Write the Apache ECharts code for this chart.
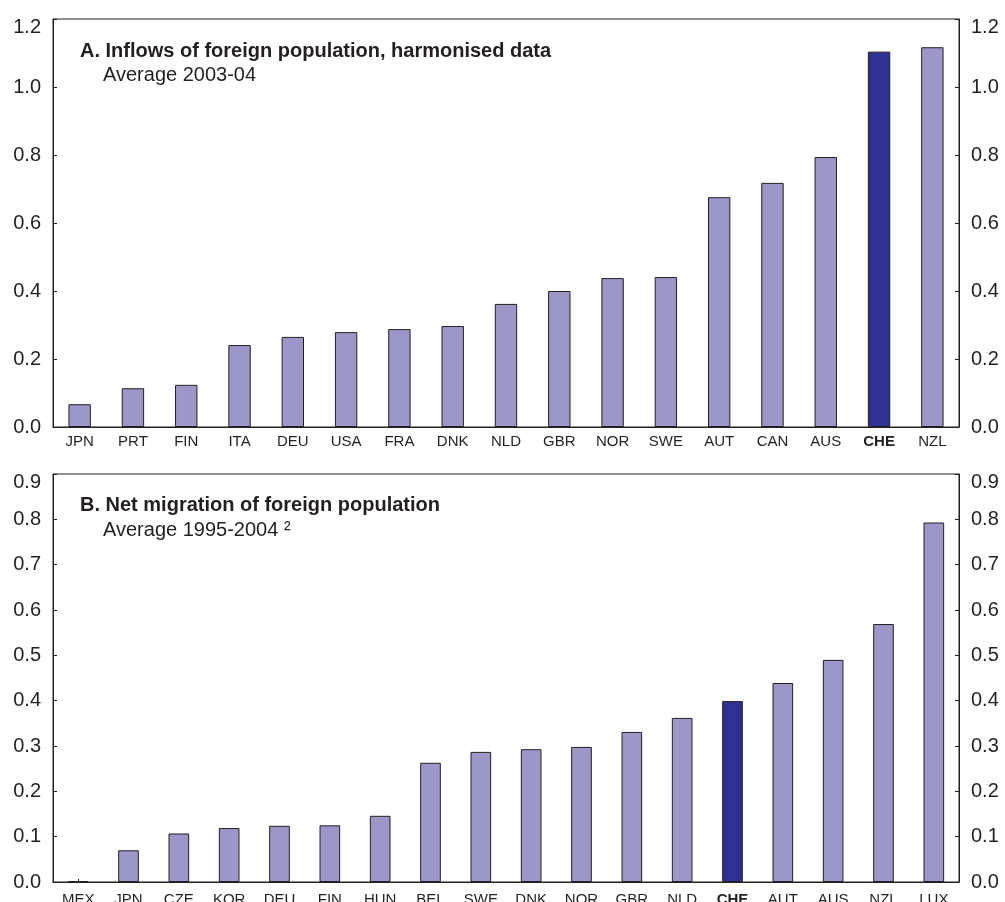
<!DOCTYPE html>
<html>
<head>
<meta charset="utf-8">
<script src="https://cdn.jsdelivr.net/npm/echarts@6/dist/echarts.min.js"></script>
<style>
  html, body { margin: 0; padding: 0; background: #fff; }
  #chart { width: 1005px; height: 902px; }
</style>
</head>
<body>
<div id="chart"></div>
<script>
// Panel A: inflows of foreign population, average 2003-04 (% of population)
const categoriesA = ['JPN','PRT','FIN','ITA','DEU','USA','FRA','DNK','NLD','GBR','NOR','SWE','AUT','CAN','AUS','CHE','NZL'];
const valuesA = [0.067, 0.114, 0.124, 0.241, 0.265, 0.279, 0.288, 0.297, 0.362, 0.400, 0.438, 0.441, 0.676, 0.718, 0.794, 1.104, 1.117];

// Panel B: net migration of foreign population, average 1995-2004
const categoriesB = ['MEX','JPN','CZE','KOR','DEU','FIN','HUN','BEL','SWE','DNK','NOR','GBR','NLD','CHE','AUT','AUS','NZL','LUX'];
const valuesB = [0.002, 0.070, 0.107, 0.119, 0.124, 0.125, 0.146, 0.263, 0.287, 0.293, 0.298, 0.331, 0.362, 0.399, 0.439, 0.490, 0.569, 0.793];

const highlight = 'CHE';
const titleA = 'A. Inflows of foreign population, harmonised data';
const subtitleA = 'Average 2003-04';
const titleB = 'B. Net migration of foreign population';
const subtitleB = 'Average 1995-2004 \u00B2';

const axisA = { min: 0, max: 1.2, interval: 0.2 };
const axisB = { min: 0, max: 0.9, interval: 0.1 };

const FONT = '"Liberation Sans", Arial, Helvetica, sans-serif';
const INK = '#231f20';
const LIGHT = '#9d97c9';
const DARK = '#2e3192';

function barData(cats, vals) {
  return vals.map((v, i) => ({
    value: v,
    itemStyle: { color: cats[i] === highlight ? DARK : LIGHT }
  }));
}

function xAxisFor(cats, gridIndex, margin) {
  return {
    type: 'category',
    gridIndex,
    data: cats,
    axisLine: { lineStyle: { color: INK, width: 1 } },
    axisTick: { show: true, inside: true, length: 3, alignWithLabel: true, lineStyle: { color: INK } },
    axisLabel: {
      color: INK, fontFamily: FONT, fontSize: 15, margin, interval: 0,
      formatter: v => v === highlight ? '{b|' + v + '}' : v,
      rich: { b: { fontWeight: 'bold', fontFamily: FONT, fontSize: 15, color: INK } }
    }
  };
}

function yAxisFor(spec, gridIndex, position) {
  return {
    type: 'value',
    gridIndex,
    position,
    min: spec.min, max: spec.max, interval: spec.interval,
    axisLine: { show: true, lineStyle: { color: INK, width: 1 } },
    axisTick: { show: true, inside: true, length: 4, lineStyle: { color: INK } },
    splitLine: { show: false },
    axisLabel: {
      color: INK, fontFamily: FONT, fontSize: 20, margin: 12,
      // the top label sits a little below the frame's upper edge
      formatter: v => Math.abs(v - spec.max) < 1e-9 ? '{top|' + v.toFixed(1) + '}' : v.toFixed(1),
      rich: { top: { fontFamily: FONT, fontSize: 20, color: INK, padding: [16, 0, 0, 0] } }
    }
  };
}

const chart = echarts.init(document.getElementById('chart'), null, { renderer: 'canvas' });

const titleStyle = { fontFamily: FONT, fontSize: 20, fontWeight: 'bold', color: INK };
const subStyle = { fontFamily: FONT, fontSize: 20, fontWeight: 'normal', color: INK };

chart.setOption({
  animation: false,
  backgroundColor: '#ffffff',
  title: [
    { text: titleA, left: 80, top: 41, padding: 0, textStyle: titleStyle },
    { text: subtitleA, left: 103, top: 65, padding: 0, textStyle: subStyle },
    { text: titleB, left: 80, top: 495, padding: 0, textStyle: titleStyle },
    { text: subtitleB, left: 103, top: 520, padding: 0, textStyle: subStyle }
  ],
  grid: [
    { left: 53, top: 19, width: 906, height: 408, show: true, borderColor: INK, borderWidth: 1,
      backgroundColor: 'transparent', outerBoundsMode: 'none', containLabel: false },
    { left: 53, top: 474, width: 906, height: 408, show: true, borderColor: INK, borderWidth: 1,
      backgroundColor: 'transparent', outerBoundsMode: 'none', containLabel: false }
  ],
  xAxis: [xAxisFor(categoriesA, 0, 7), xAxisFor(categoriesB, 1, 10)],
  yAxis: [
    yAxisFor(axisA, 0, 'left'), yAxisFor(axisA, 0, 'right'),
    yAxisFor(axisB, 1, 'left'), yAxisFor(axisB, 1, 'right')
  ],
  series: [
    {
      type: 'bar', xAxisIndex: 0, yAxisIndex: 0, barWidth: '42%',
      data: barData(categoriesA, valuesA),
      itemStyle: { borderColor: INK, borderWidth: 1 }
    },
    {
      type: 'bar', xAxisIndex: 1, yAxisIndex: 2, barWidth: '41%',
      data: barData(categoriesB, valuesB),
      itemStyle: { borderColor: INK, borderWidth: 1 }
    }
  ]
});
</script>
</body>
</html>
